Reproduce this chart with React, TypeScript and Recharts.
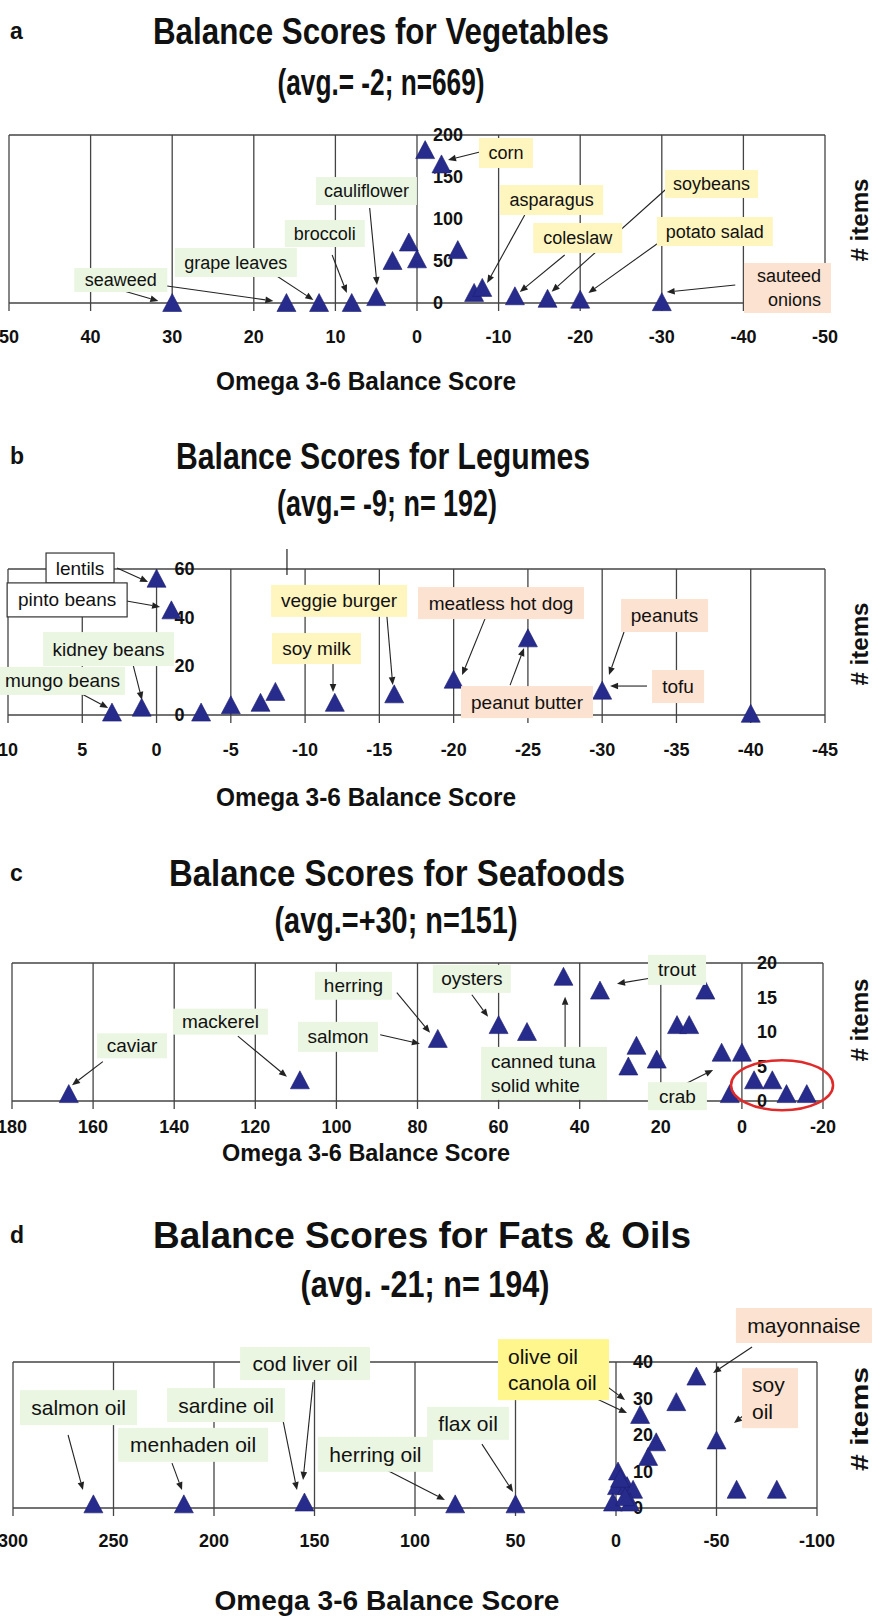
import React from 'react';
import {
  ScatterChart,
  Scatter,
  XAxis,
  YAxis,
  CartesianGrid,
  ReferenceDot,
  ReferenceLine,
} from 'recharts';

const FONT = '"Liberation Sans", Arial, sans-serif';
const MARK = '#272B8C';
const GRID = '#444';
const GREEN = '#EAF6E2';
const YELLOW = '#FFF5BF';
const BRIGHT_YELLOW = '#FFF68E';
const PEACH = '#FCE2D0';

// a - vegetables
const vegScore = [30, 16, 12, 8, 5, 3, 1, 0, -1, -3, -5, -7, -8, -12, -16, -20, -30];
const vegItems = [0, 0, 0, 0, 7, 50, 72, 52, 182, 165, 63, 12, 18, 8, 5, 4, 1];
const vegXTicks = [50, 40, 30, 20, 10, 0, -10, -20, -30, -40, -50];
const vegYTicks = [0, 50, 100, 150, 200];

// b - legumes
const legScore = [0, -1, 3, 1, -3, -5, -7, -8, -12, -16, -20, -25, -30, -40];
const legItems = [56, 43, 1, 3, 1, 4, 5, 9.5, 5, 8.5, 14.5, 31.5, 10, 0.5];
const legXTicks = [10, 5, 0, -5, -10, -15, -20, -25, -30, -35, -40, -45];
const legYTicks = [0, 20, 40, 60];

// c - seafoods
const seaScore = [166, 109, 75, 60, 53, 44, 35, 9, 16, 13, 26, 28, 21, 5, 0, 3, -3, -7.5, -11, -16];
const seaItems = [1, 3, 9, 11, 10, 18, 16, 16, 11, 11, 8, 5, 6, 7, 7, 1, 3, 3, 1, 1];
const seaXTicks = [180, 160, 140, 120, 100, 80, 60, 40, 20, 0, -20];
const seaYTicks = [0, 5, 10, 15, 20];

// d - fats & oils
const fatScore = [260, 215, 155, 80, 50, -40, -30, -12, -20, -16, -50, -60, -80, -1, -0.5, -5.5, -8.5, 1.5, -7, -2, -4.5];
const fatItems = [1, 1, 1.5, 1, 1, 36, 29, 25.5, 18, 14, 18.5, 5, 5, 10, 6, 6, 5, 1.5, 1.5, 8, 3];
const fatXTicks = [300, 250, 200, 150, 100, 50, 0, -50, -100];
const fatYTicks = [0, 10, 20, 30, 40];

// callout boxes (centre in data units, size in px) and arrows [x0, y0, x1, y1]
const vegLabels = [
  { lines: ['seaweed'], at: [36.3, 27.4], w: 93, h: 24, fill: GREEN },
  { lines: ['grape leaves'], at: [22.2, 48.2], w: 122, h: 29, fill: GREEN },
  { lines: ['broccoli'], at: [11.3, 82.7], w: 80, h: 27, fill: GREEN },
  { lines: ['cauliflower'], at: [6.2, 133.3], w: 101, h: 28, fill: GREEN },
  { lines: ['corn'], at: [-10.9, 178.6], w: 54, h: 30, fill: YELLOW },
  { lines: ['asparagus'], at: [-16.5, 122.6], w: 103, h: 30, fill: YELLOW },
  { lines: ['soybeans'], at: [-36.1, 141.7], w: 93, h: 28, fill: YELLOW },
  { lines: ['coleslaw'], at: [-19.7, 77.4], w: 89, h: 30, fill: YELLOW },
  { lines: ['potato salad'], at: [-36.5, 85.1], w: 116, h: 29, fill: YELLOW },
  { lines: ['sauteed', 'onions'], at: [-45.4, 17.9], w: 87, h: 50, fill: PEACH, align: 'end' },
];
const vegArrows = [
  [37.6, 19.0, 31.7, 2.4], [31.5, 21.4, 17.6, 2.4], [18.3, 39.3, 12.7, 3.6],
  [10.4, 57.1, 8.6, 11.9], [5.8, 113.1, 4.9, 21.4], [-7.7, 179.8, -3.8, 170.2],
  [-13.2, 104.8, -8.6, 23.8], [-18.1, 57.1, -12.6, 13.1], [-30.4, 134.5, -16.5, 13.5],
  [-30.6, 78.6, -21.0, 11.9], [-39.0, 21.4, -30.6, 13.1],
];

const legLabels = [
  { lines: ['lentils'], at: [5.15, 60.4], w: 68, h: 30, fill: '#fff', border: true },
  { lines: ['pinto beans'], at: [6.02, 47.3], w: 120, h: 34, fill: '#fff', border: true },
  { lines: ['kidney beans'], at: [3.23, 27.1], w: 131, h: 34, fill: GREEN },
  { lines: ['mungo beans'], at: [6.33, 14.0], w: 125, h: 28, fill: GREEN },
  { lines: ['veggie burger'], at: [-12.29, 46.9], w: 136, h: 32, fill: YELLOW },
  { lines: ['soy milk'], at: [-10.77, 27.3], w: 89, h: 31, fill: YELLOW },
  { lines: ['meatless hot dog'], at: [-23.19, 46.0], w: 166, h: 32, fill: PEACH },
  { lines: ['peanut butter'], at: [-24.94, 5.3], w: 132, h: 32, fill: PEACH },
  { lines: ['peanuts'], at: [-34.2, 40.9], w: 87, h: 33, fill: PEACH },
  { lines: ['tofu'], at: [-35.11, 11.7], w: 52, h: 33, fill: PEACH },
];
const legArrows = [
  [2.66, 60.4, 0.57, 54.7], [2.79, 47.7, -0.24, 44.4], [1.58, 20.6, 0.98, 6.2],
  [5.15, 9.0, 3.26, 2.9], [-15.5, 41.1, -15.9, 12.3], [-11.88, 21.4, -11.88, 9.5],
  [-22.11, 39.5, -20.57, 16.4], [-23.8, 12.3, -24.74, 27.5], [-31.47, 34.1, -30.46, 16.4],
  [-33.02, 11.9, -30.53, 11.9],
];
const legStray = [[-8.78, 57.5, -8.78, 69]];

const seaLabels = [
  { lines: ['caviar'], at: [150.4, 8.0], w: 70, h: 25, fill: GREEN },
  { lines: ['mackerel'], at: [128.6, 11.5], w: 95, h: 26, fill: GREEN },
  { lines: ['herring'], at: [95.8, 16.7], w: 77, h: 28, fill: GREEN },
  { lines: ['salmon'], at: [99.6, 9.3], w: 80, h: 30, fill: GREEN },
  { lines: ['oysters'], at: [66.6, 17.7], w: 78, h: 28, fill: GREEN },
  { lines: ['canned tuna', 'solid white'], at: [48.8, 4.0], w: 126, h: 53, fill: GREEN, align: 'start' },
  { lines: ['trout'], at: [16.0, 19.0], w: 58, h: 30, fill: GREEN },
  { lines: ['crab'], at: [15.9, 0.7], w: 59, h: 28, fill: GREEN },
];
const seaArrows = [
  [157.6, 5.7, 165.2, 2.3], [124.3, 9.4, 112.2, 3.5], [85.1, 15.7, 76.9, 9.9],
  [89.2, 9.6, 79.4, 8.3], [66.6, 15.4, 62.6, 12.2], [43.6, 5.9, 43.6, 15.1],
  [22.7, 17.8, 30.8, 17.0], [13.5, 2.6, 7.1, 4.5],
];
const seaCircle = [-9.9, 2.3];

const fatLabels = [
  { lines: ['salmon oil'], at: [267.4, 27.5], w: 117, h: 35, fill: GREEN },
  { lines: ['menhaden oil'], at: [210.4, 17.3], w: 150, h: 34, fill: GREEN },
  { lines: ['sardine oil'], at: [194.0, 28.2], w: 118, h: 34, fill: GREEN },
  { lines: ['cod liver oil'], at: [154.7, 39.6], w: 130, h: 33, fill: GREEN },
  { lines: ['herring oil'], at: [119.7, 14.7], w: 115, h: 35, fill: GREEN },
  { lines: ['flax oil'], at: [73.6, 23.2], w: 82, h: 33, fill: GREEN },
  { lines: ['olive oil', 'canola oil'], at: [31.1, 37.9], w: 111, h: 61, fill: BRIGHT_YELLOW, align: 'start' },
  { lines: ['mayonnaise'], at: [-93.5, 50.0], w: 136, h: 35, fill: PEACH },
  { lines: ['soy', 'oil'], at: [-76.6, 30.1], w: 56, h: 60, fill: PEACH, align: 'start' },
];
const fatArrows = [
  [272.6, 20.0, 265.2, 4.9], [220.9, 12.3, 215.9, 4.9], [165.7, 24.1, 158.7, 4.9],
  [150.7, 34.5, 155.7, 7.7], [120.9, 12.3, 85.1, 2.2], [66.7, 17.5, 51.2, 4.4],
  [18.9, 39.2, -4.5, 29.6], [13.9, 31.0, -5.5, 26.0], [-67.7, 44.1, -48.3, 37.0],
  [-70.1, 28.2, -58.7, 23.3],
];

const Triangle = (p: any) => {
  const { cx, cy } = p;
  if (cx == null || cy == null) return null;
  return (
    <polygon
      points={`${cx},${cy - 9.5} ${cx + 9.5},${cy + 8.5} ${cx - 9.5},${cy + 8.5}`}
      fill={MARK}
      stroke="#1c1f6e"
      strokeWidth={0.6}
    />
  );
};

const makeArrow = (head: boolean) => (p: any) => {
  const { x1, y1, x2, y2 } = p;
  if ([x1, y1, x2, y2].some((v) => v == null || isNaN(v))) return null;
  if (!head) return <line x1={x1} y1={y1} x2={x2} y2={y2} stroke="#222" strokeWidth={1.2} />;
  const ang = Math.atan2(y2 - y1, x2 - x1);
  const L = 8;
  const W = 3.3;
  const bx = x2 - L * Math.cos(ang);
  const by = y2 - L * Math.sin(ang);
  const px = -Math.sin(ang) * W;
  const py = Math.cos(ang) * W;
  return (
    <g>
      <line x1={x1} y1={y1} x2={bx} y2={by} stroke="#222" strokeWidth={1.1} />
      <polygon points={`${x2},${y2} ${bx + px},${by + py} ${bx - px},${by - py}`} fill="#222" />
    </g>
  );
};

const makeBox = (b: any, fontSize: number) => (p: any) => {
  const { cx, cy } = p;
  if (cx == null || cy == null) return null;
  const left = cx - b.w / 2;
  const lh = fontSize + 5.5;
  const n = b.lines.length;
  const anchor = b.align || 'middle';
  const tx = anchor === 'start' ? left + 10 : anchor === 'end' ? left + b.w - 10 : cx;
  return (
    <g>
      <rect
        x={left}
        y={cy - b.h / 2}
        width={b.w}
        height={b.h}
        fill={b.fill}
        stroke={b.border ? '#333' : 'none'}
        strokeWidth={1.2}
      />
      {b.lines.map((t: string, i: number) => (
        <text
          key={t}
          x={tx}
          y={cy + (i - (n - 1) / 2) * lh}
          textAnchor={anchor}
          dominantBaseline="central"
          fontFamily={FONT}
          fontSize={fontSize}
          fill="#111"
        >
          {t}
        </text>
      ))}
    </g>
  );
};

const yTickLabel = (v: number, dx: number) => (p: any) => {
  const { cx, cy } = p;
  if (cx == null || cy == null) return null;
  return (
    <text x={cx + dx} y={cy} dominantBaseline="central" fontFamily={FONT} fontSize={18} fontWeight={700} fill="#111">
      {v}
    </text>
  );
};

const Ellipse = (p: any) => {
  const { cx, cy } = p;
  if (cx == null || cy == null) return null;
  return <ellipse cx={cx} cy={cy} rx={51} ry={25} fill="none" stroke="#E02A2A" strokeWidth={2.5} />;
};

type PanelProps = {
  top: number;
  height: number;
  margin: { top: number; left: number; right: number; bottom: number };
  scores: number[];
  items: number[];
  xTicks: number[];
  yTicks: number[];
  tickMargin: number;
  yLabelDx: number;
  labels: any[];
  arrows: number[][];
  stray?: number[][];
  boxFont: number;
  circle?: number[];
};

const Panel = (c: PanelProps) => {
  const data = c.scores.map((x, i) => ({ x, y: c.items[i] }));
  const xMin = Math.min(...c.xTicks);
  const xMax = Math.max(...c.xTicks);
  const yMax = Math.max(...c.yTicks);
  return (
    <div style={{ position: 'absolute', left: 0, top: c.top }}>
      <ScatterChart width={876} height={c.height} margin={c.margin}>
        <CartesianGrid stroke={GRID} strokeWidth={1.3} fill="none" />
        <XAxis
          type="number"
          dataKey="x"
          domain={[xMin, xMax]}
          ticks={c.xTicks}
          reversed
          interval={0}
          height={60}
          axisLine={false}
          tickSize={8}
          tickMargin={c.tickMargin}
          tickLine={{ stroke: GRID, strokeWidth: 1.3 }}
          tick={{ fontSize: 18, fontWeight: 700, fill: '#111', fontFamily: FONT }}
        />
        <YAxis
          type="number"
          dataKey="y"
          domain={[0, yMax]}
          ticks={c.yTicks}
          width={0}
          tick={false}
          axisLine={false}
          tickLine={false}
        />
        {(c.stray || []).map((a, i) => (
          <ReferenceLine
            key={`s${i}`}
            segment={[{ x: a[0], y: a[1] }, { x: a[2], y: a[3] }]}
            ifOverflow="visible"
            shape={makeArrow(false)}
          />
        ))}
        {c.arrows.map((a, i) => (
          <ReferenceLine
            key={`a${i}`}
            segment={[{ x: a[0], y: a[1] }, { x: a[2], y: a[3] }]}
            ifOverflow="visible"
            shape={makeArrow(true)}
          />
        ))}
        {c.yTicks.map((v) => (
          <ReferenceDot key={`y${v}`} x={0} y={v} r={0} ifOverflow="visible" shape={yTickLabel(v, c.yLabelDx)} />
        ))}
        <Scatter data={data} shape={Triangle} isAnimationActive={false} />
        {c.labels.map((b, i) => (
          <ReferenceDot
            key={`b${i}`}
            x={b.at[0]}
            y={b.at[1]}
            r={0}
            ifOverflow="visible"
            shape={makeBox(b, c.boxFont)}
          />
        ))}
        {c.circle && (
          <ReferenceDot x={c.circle[0]} y={c.circle[1]} r={0} ifOverflow="visible" shape={Ellipse} />
        )}
      </ScatterChart>
    </div>
  );
};

const Title = ({ x, y, len, size, children }: any) => (
  <text
    x={x}
    y={y}
    textAnchor="middle"
    dominantBaseline="central"
    fontFamily={FONT}
    fontWeight={700}
    fontSize={size}
    textLength={len}
    lengthAdjust="spacingAndGlyphs"
    fill="#111"
  >
    {children}
  </text>
);

const Letter = ({ y, children }: any) => (
  <text x={10} y={y} dominantBaseline="central" fontFamily={FONT} fontWeight={700} fontSize={23} fill="#111">
    {children}
  </text>
);

const Items = ({ y, len }: any) => (
  <text
    transform={`translate(860,${y}) rotate(-90)`}
    textAnchor="middle"
    dominantBaseline="central"
    fontFamily={FONT}
    fontWeight={700}
    fontSize={23}
    textLength={len}
    lengthAdjust="spacingAndGlyphs"
    fill="#111"
  >
    # items
  </text>
);

export default function App() {
  return (
    <div style={{ position: 'absolute', left: 0, top: 0, width: 876, height: 1624, background: '#fff' }}>
      <Panel
        top={115}
        height={248}
        margin={{ top: 20, left: 9, right: 51, bottom: 0 }}
        scores={vegScore}
        items={vegItems}
        xTicks={vegXTicks}
        yTicks={vegYTicks}
        tickMargin={19}
        yLabelDx={16}
        labels={vegLabels}
        arrows={vegArrows}
        boxFont={18}
      />
      <Panel
        top={549}
        height={226}
        margin={{ top: 20, left: 8, right: 51, bottom: 0 }}
        scores={legScore}
        items={legItems}
        xTicks={legXTicks}
        yTicks={legYTicks}
        tickMargin={20}
        yLabelDx={18}
        labels={legLabels}
        arrows={legArrows}
        stray={legStray}
        boxFont={19}
      />
      <Panel
        top={943}
        height={218}
        margin={{ top: 20, left: 12, right: 53, bottom: 0 }}
        scores={seaScore}
        items={seaItems}
        xTicks={seaXTicks}
        yTicks={seaYTicks}
        tickMargin={11}
        yLabelDx={15}
        labels={seaLabels}
        arrows={seaArrows}
        boxFont={19}
        circle={seaCircle}
      />
      <Panel
        top={1282}
        height={286}
        margin={{ top: 80, left: 13, right: 59, bottom: 0 }}
        scores={fatScore}
        items={fatItems}
        xTicks={fatXTicks}
        yTicks={fatYTicks}
        tickMargin={18}
        yLabelDx={17}
        labels={fatLabels}
        arrows={fatArrows}
        boxFont={21}
      />
      <svg
        width={876}
        height={1624}
        style={{ position: 'absolute', left: 0, top: 0, pointerEvents: 'none' }}
      >
        <Letter y={31}>a</Letter>
        <Title x={381} y={31} len={456} size={36}>Balance Scores for Vegetables</Title>
        <Title x={381} y={82} len={207} size={36}>(avg.= -2; n=669)</Title>
        <Title x={366} y={381} len={300} size={25}>Omega 3-6 Balance Score</Title>
        <Items y={220} len={83} />

        <Letter y={456}>b</Letter>
        <Title x={383} y={456} len={414} size={36}>Balance Scores for Legumes</Title>
        <Title x={387} y={503} len={220} size={36}>(avg.= -9; n= 192)</Title>
        <Title x={366} y={797} len={300} size={25}>Omega 3-6 Balance Score</Title>
        <Items y={644} len={83} />

        <Letter y={873}>c</Letter>
        <Title x={397} y={873} len={456} size={36}>Balance Scores for Seafoods</Title>
        <Title x={396} y={920} len={243} size={36}>(avg.=+30;  n=151)</Title>
        <Title x={366} y={1152} len={288} size={24}>Omega 3-6 Balance Score</Title>
        <Items y={1020} len={83} />

        <Letter y={1235}>d</Letter>
        <Title x={422} y={1235} len={538} size={37}>Balance Scores for Fats &amp; Oils</Title>
        <Title x={425} y={1284} len={249} size={37}>(avg. -21; n= 194)</Title>
        <Title x={387} y={1600} len={345} size={28}>Omega 3-6 Balance Score</Title>
        <Items y={1419} len={104} />
      </svg>
    </div>
  );
}
